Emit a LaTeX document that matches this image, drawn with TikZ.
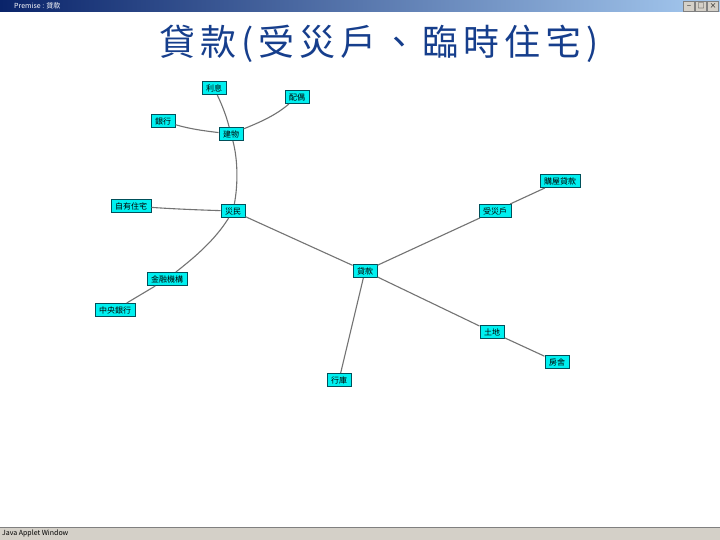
\documentclass[tikz,border=0pt]{standalone}
\usepackage{fontspec}
\setmainfont{Noto Sans CJK TC}
\usetikzlibrary{shadings}
\definecolor{barblue}{RGB}{10,36,106}
\definecolor{barlight}{RGB}{166,202,240}
\definecolor{titleblue}{RGB}{22,62,140}
\definecolor{nodecyan}{RGB}{0,240,240}
\definecolor{nodeedge}{RGB}{0,80,90}
\definecolor{barsgray}{RGB}{212,208,200}
\begin{document}
\begin{tikzpicture}[
    x=1pt, y=-1pt,
    topic/.style={draw=nodeedge, line width=1pt, fill=nodecyan, inner sep=0pt, minimum height=13pt, font=\fontsize{8}{8}\selectfont},
    link/.style={draw=black!55, line width=1.1pt},
    winbtn/.style={draw=gray, fill=barsgray, inner sep=0pt, minimum width=11pt, minimum height=10pt, font=\fontsize{7}{7}\selectfont}
]
\useasboundingbox (0,0) rectangle (720,540);
\fill[white] (0,0) rectangle (720,540);

% Window frame
\shade[left color=barblue, right color=barlight] (0,0) rectangle (720,12);
\node[text=white, anchor=west, inner sep=0pt, font=\fontsize{7}{8}\selectfont] (wintitle) at (14,6) {Premise : 貸款};
\node[winbtn] (btnmin) at (689,6) {\_};
\node[winbtn] (btnmax) at (701,6) {□};
\node[winbtn] (btnclose) at (713,6) {×};
\fill[barsgray] (0,527) rectangle (720,540);
\draw[gray] (0,527) -- (720,527);
\node[anchor=west, inner sep=0pt, font=\fontsize{7}{8}\selectfont] (status) at (2,533.5) {Java Applet Window};

% Title
\node[text=titleblue, inner sep=0pt, font=\fontsize{36}{40}\selectfont\addfontfeature{LetterSpace=14}] (title) at (379,44) {貸款(受災戶、臨時住宅)};

% Topics
\node[topic, minimum width=24pt] (interest) at (214,88) {利息};
\node[topic, minimum width=24pt] (repay) at (297,97) {配偶};
\node[topic, minimum width=24pt] (bank) at (163,121) {銀行};
\node[topic, minimum width=24pt] (building) at (231,134) {建物};
\node[topic, minimum width=40pt] (ownhome) at (131,206) {自有住宅};
\node[topic, minimum width=24pt] (victim) at (233,211) {災民};
\node[topic, minimum width=40pt] (finance) at (167,279) {金融機構};
\node[topic, minimum width=40pt] (central) at (115,310) {中央銀行};
\node[topic, minimum width=24pt] (loan) at (365,271) {貸款};
\node[topic, minimum width=32pt] (household) at (495,211) {受災戶};
\node[topic, minimum width=40pt] (purchase) at (560,181) {購屋貸款};
\node[topic, minimum width=24pt] (land) at (492,332) {土地};
\node[topic, minimum width=24pt] (house) at (557,362) {房舍};
\node[topic, minimum width=24pt] (branch) at (339,380) {行庫};

% Links
\draw[link] (interest) .. controls (222,105) and (226,115) .. (building);
\draw[link] (repay) .. controls (275,116) and (258,123) .. (building);
\draw[link] (bank) .. controls (190,129) and (205,131) .. (building);
\draw[link] (building) .. controls (238,160) and (238,185) .. (victim);
\draw[link] (ownhome) .. controls (175,209) and (200,210) .. (victim);
\draw[link] (victim) .. controls (215,240) and (195,257) .. (finance);
\draw[link] (finance) -- (central);
\draw[link] (victim) -- (loan);
\draw[link] (loan) -- (household);
\draw[link] (household) -- (purchase);
\draw[link] (loan) -- (land);
\draw[link] (land) -- (house);
\draw[link] (loan) -- (branch);
\end{tikzpicture}
\end{document}
